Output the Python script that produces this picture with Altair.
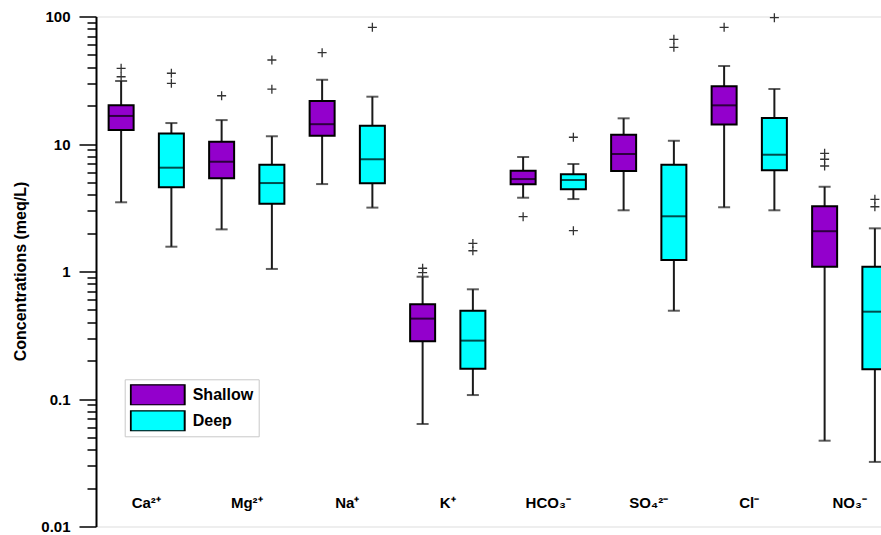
import altair as alt
import pandas as pd

categories = ["Ca²⁺", "Mg²⁺", "Na⁺", "K⁺", "HCO₃⁻", "SO₄²⁻", "Cl⁻", "NO₃⁻"]
groups = ["Shallow", "Deep"]
group_colors = ["#9300CC", "#00FFFF"]

# Shallow groundwater box statistics (meq/L)
shallow_low = [3.49, 2.14, 4.85, 0.0637, 3.79, 3.02, 3.19, 0.0471]
shallow_q1 = [12.9, 5.38, 11.6, 0.284, 4.83, 6.14, 14.2, 1.09]
shallow_median = [16.6, 7.26, 14.3, 0.427, 5.31, 8.35, 20.1, 2.07]
shallow_q3 = [20.1, 10.4, 21.7, 0.553, 6.18, 11.8, 28.4, 3.25]
shallow_high = [31.2, 15.4, 31.9, 0.910, 7.91, 15.9, 40.9, 4.62]
shallow_outliers = [[39.2, 33.7], [23.9], [52.0], [1.06, 0.979], [2.69], [], [82.3], [8.45, 7.59, 6.72]]

# Deep groundwater box statistics (meq/L)
deep_low = [1.565, 1.047, 3.17, 0.1074, 3.70, 0.4925, 3.02, 0.0321]
deep_q1 = [4.57, 3.40, 4.92, 0.173, 4.41, 1.23, 6.22, 0.171]
deep_median = [6.52, 4.94, 7.59, 0.287, 5.22, 2.71, 8.24, 0.484]
deep_q3 = [12.1, 6.88, 13.9, 0.4925, 5.79, 6.88, 16.0, 1.09]
deep_high = [14.6, 11.5, 23.5, 0.725, 6.97, 10.6, 27.0, 2.18]
deep_outliers = [[35.9, 29.9], [45.6, 26.9], [82.3], [1.66, 1.455], [11.3, 2.09], [66.2, 57.3], [97.9], [3.68, 3.22]]

major_ticks = [0.01, 0.1, 1, 10, 100]
minor_multipliers = [2, 3, 4, 5, 6, 7, 8, 9]

rows = []
for i, c in enumerate(categories):
    rows.append(dict(Category=c, Group="Shallow", low=shallow_low[i], q1=shallow_q1[i],
                     med=shallow_median[i], q3=shallow_q3[i], high=shallow_high[i]))
    rows.append(dict(Category=c, Group="Deep", low=deep_low[i], q1=deep_q1[i],
                     med=deep_median[i], q3=deep_q3[i], high=deep_high[i]))
stats = pd.DataFrame(rows)

orows = []
for i, c in enumerate(categories):
    for v in shallow_outliers[i]:
        orows.append(dict(Category=c, Group="Shallow", value=v))
    for v in deep_outliers[i]:
        orows.append(dict(Category=c, Group="Deep", value=v))
outl = pd.DataFrame(orows)

tick_values = list(major_ticks)
for m in major_ticks[:-1]:
    for k in minor_multipliers:
        tick_values.append(round(m * k, 6))
tick_values = sorted(tick_values)

FONT = "Liberation Sans"
major_test = "indexof([0.01, 0.1, 1, 10, 100], datum.value) >= 0"

x_scale = alt.Scale(domain=categories, range=[0, 804], paddingInner=0, paddingOuter=0)
xo_scale = alt.Scale(domain=groups, paddingInner=0, paddingOuter=0)
y_scale = alt.Scale(type="log", domain=[0.01, 100], nice=False)

x_axis = alt.Axis(orient="bottom", offset=-30, domain=False, ticks=False, tickSize=0,
                  labelPadding=6, labelBaseline="middle", labelAngle=0, labelFont=FONT,
                  labelFontSize=15, labelFontWeight="bold", labelColor="black",
                  labelOverlap=False, title=None, grid=False)
y_axis = alt.Axis(values=tick_values,
                  tickSize={"condition": {"test": major_test, "value": 17}, "value": 9},
                  tickWidth=1.5, tickColor="black", domainColor="black", domainWidth=2,
                  labelExpr=f"{major_test} ? format(datum.value, '~g') : ''",
                  labelFont=FONT, labelFontSize=15, labelFontWeight="bold", labelColor="black",
                  labelPadding=9, labelOverlap=False, labelFlush=False, grid=False,
                  title="Concentrations (meq/L)", titleFont=FONT, titleFontSize=16,
                  titleFontWeight="bold", titleColor="black", titleAngle=-90,
                  titleX=-71, titleY=254.5, titleAlign="center", titleBaseline="alphabetic")

X = alt.X("Category:N", scale=x_scale, axis=x_axis, sort=categories)
XO = alt.XOffset("Group:N", scale=xo_scale, sort=groups)

def Y(field):
    return alt.Y(f"{field}:Q", scale=y_scale, axis=y_axis)

base = alt.Chart(stats)

whisk = base.mark_rule(color="#1a1a1a", strokeWidth=2).encode(
    x=X, xOffset=XO, y=Y("low"), y2="high:Q")
cap_lo = base.mark_tick(size=12, thickness=2, color="#1a1a1a").encode(
    x=X, xOffset=XO, y=Y("low"))
cap_hi = base.mark_tick(size=12, thickness=2, color="#1a1a1a").encode(
    x=X, xOffset=XO, y=Y("high"))
box = base.mark_bar(size=25, stroke="black", strokeWidth=2).encode(
    x=X, xOffset=XO, y=Y("q1"), y2="q3:Q",
    color=alt.Color("Group:N", scale=alt.Scale(domain=groups, range=group_colors),
                    legend=alt.Legend(orient="none", legendX=28.7, legendY=362.8, title=None,
                                      symbolType="M-1,-0.385H1V0.385H-1Z", symbolSize=2916,
                                      symbolStrokeColor="black", symbolStrokeWidth=2,
                                      symbolOpacity=1, clipHeight=21, rowPadding=5,
                                      labelFont=FONT, labelFontSize=16, labelFontWeight="bold",
                                      labelColor="black", labelOffset=7, padding=5,
                                      strokeColor="#c8c8c8", fillColor="white")))
median = base.mark_tick(size=25, thickness=2, color="black").encode(
    x=X, xOffset=XO, y=Y("med"))
points = alt.Chart(outl).mark_point(shape="M-1,0H1M0,-1V1", size=81, filled=False,
                                    color="#333333", strokeWidth=1.3, opacity=1).encode(
    x=X, xOffset=XO, y=Y("value"))

chart = alt.layer(whisk, cap_lo, cap_hi, box, median, points).properties(
    width=785, height=510,
    autosize=alt.AutoSizeParams(type="none"),
    padding={"left": 96, "top": 16.5, "right": 0, "bottom": 8.5},
).configure_view(stroke=None).configure(background="white")

chart.save("out.html", embed_options={"renderer": "svg", "actions": False})
